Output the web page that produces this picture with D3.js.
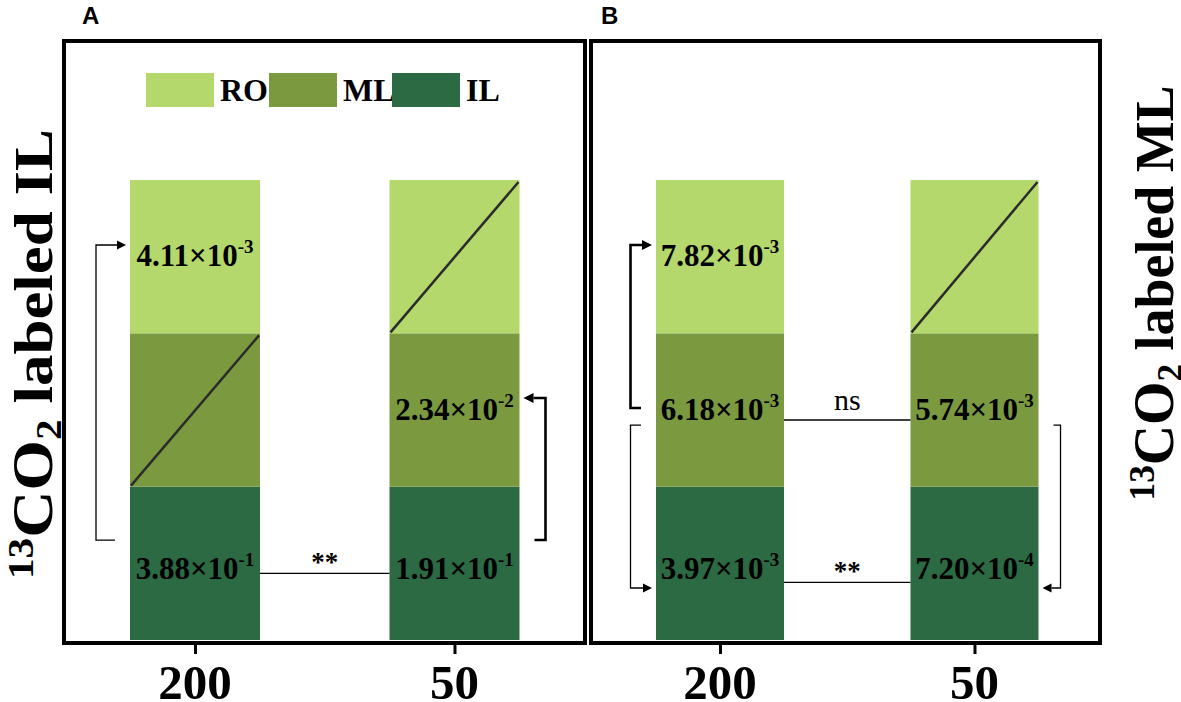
<!DOCTYPE html>
<html>
<head>
<meta charset="utf-8">
<script src="https://cdn.jsdelivr.net/npm/d3@7"></script>
<style>
  body { margin: 0; background: #fff; }
</style>
</head>
<body>
<div id="chart"></div>
<script>
// x categories (13CO2 level)
const categories = ["200", "50"];
// stacked parts, bottom to top
const parts = ["IL", "ML", "RO"];
const legendParts = ["RO", "ML", "IL"];
const partColors = { RO: "#b4d86b", ML: "#7b9a40", IL: "#2c6a43" };

// values per part [IL, ML, RO]; null = not measured (crossed cell)
const panelA200 = [3.88e-1, null, 4.11e-3];
const panelA50 = [1.91e-1, 2.34e-2, null];
const panelB200 = [3.97e-3, 6.18e-3, 7.82e-3];
const panelB50 = [7.20e-4, 5.74e-3, null];

// significance 200 vs 50 per part [IL, ML, RO]
const sigA = ["**", null, null];
const sigB = ["**", "ns", null];

const W = 1181, H = 702;
const serif = "'Liberation Serif', 'Times New Roman', serif";
const sans = "'Liberation Sans', Arial, sans-serif";

const svg = d3.select("#chart").append("svg")
  .attr("width", W)
  .attr("height", H);

// stack height in "part" units, every part gets one unit
const y = d3.scaleLinear().domain([0, parts.length]).range([640, 180]);

// baseline offset of the value label inside each part
const labelDy = [16, 10, 9.5];

const panels = [
  {
    id: "A", frame: [64, 41, 585, 643], centers: [195, 454.5], barW: 130,
    values: { "200": panelA200, "50": panelA50 }, sig: sigA, sigDy: [10, 10, 10],
    title: "labeled IL", titleX: 52, titleY: 354, titleLen: 450, legend: true,
    brackets: [
      { cat: "200", side: "left", from: 0.652, to: 2.576, off: 34, thick: false },
      { cat: "50", side: "right", from: 0.652, to: 1.578, off: 26, thick: true }
    ]
  },
  {
    id: "B", frame: [591, 41, 1100, 643], centers: [720, 974.5], barW: 128,
    values: { "200": panelB200, "50": panelB50 }, sig: sigB, sigDy: [19, 10, 10],
    title: "labeled ML", titleX: 1173, titleY: 293, titleLen: 415, legend: false,
    brackets: [
      { cat: "200", side: "left", from: 1.513, to: 2.576, off: 25.5, thick: true },
      { cat: "200", side: "left", from: 1.402, to: 0.339, off: 25.5, thick: false },
      { cat: "50", side: "right", from: 1.402, to: 0.339, off: 22, thick: false }
    ]
  }
];

function sciParts(v) {
  let s = v.toExponential(2).split("e");
  return [s[0] + "\u00d710", String(+s[1])];
}

panels.forEach(function(p) {
  let g = svg.append("g");
  let x = d3.scalePoint().domain(categories).range(p.centers);
  let [fx0, fy0, fx1, fy1] = p.frame;

  // bars
  categories.forEach(function(cat) {
    let vals = p.values[cat];
    let bx = x(cat) - p.barW / 2;
    parts.forEach(function(part, i) {
      g.append("rect")
        .attr("x", bx)
        .attr("y", y(i + 1))
        .attr("width", p.barW)
        .attr("height", y(i) - y(i + 1))
        .attr("fill", partColors[part]);
      if (vals[i] === null) {
        g.append("line")
          .attr("x1", bx + 1).attr("y1", y(i) - 1)
          .attr("x2", bx + p.barW - 1).attr("y2", y(i + 1) + 2)
          .attr("stroke", "#2b2b2b")
          .attr("stroke-width", 2.5);
      } else {
        let sp = sciParts(vals[i]);
        let t = g.append("text")
          .attr("x", x(cat))
          .attr("y", y(i + 0.5) + labelDy[i])
          .attr("text-anchor", "middle")
          .attr("font-family", serif)
          .attr("font-weight", "bold")
          .attr("font-size", 31)
          .attr("fill", "#000");
        t.append("tspan").text(sp[0]);
        t.append("tspan").attr("dy", -13).attr("font-size", 19).text(sp[1]);
      }
    });
  });

  // significance between the two bars
  let xl = x(categories[0]) + p.barW / 2;
  let xr = x(categories[1]) - p.barW / 2;
  p.sig.forEach(function(s, i) {
    if (!s) return;
    let ly = y(i + 0.5) + p.sigDy[i];
    g.append("line")
      .attr("x1", xl).attr("x2", xr)
      .attr("y1", ly).attr("y2", ly)
      .attr("stroke", "#000")
      .attr("stroke-width", 1.3);
    g.append("text")
      .attr("x", (xl + xr) / 2)
      .attr("y", s === "ns" ? ly - 10 : ly - 2)
      .attr("text-anchor", "middle")
      .attr("font-family", serif)
      .attr("font-weight", s === "ns" ? "normal" : "bold")
      .attr("font-size", s === "ns" ? 30 : 27)
      .text(s);
  });

  // brackets with arrows
  p.brackets.forEach(function(b) {
    let dir = b.side === "left" ? -1 : 1;
    let edge = x(b.cat) + dir * p.barW / 2;
    let vx = edge + dir * b.off;
    let yFrom = y(b.from), yTo = y(b.to);
    let sw = b.thick ? 2.6 : 1.3;
    let tip = edge + dir * 4;
    let head = b.thick ? 10 : 9;
    let hh = b.thick ? 5 : 4.5;
    g.append("path")
      .attr("d", "M" + (edge + dir * 15) + "," + yFrom +
        "H" + vx + "V" + yTo + "H" + (tip + dir * head))
      .attr("fill", "none")
      .attr("stroke", "#000")
      .attr("stroke-width", sw);
    g.append("path")
      .attr("d", "M" + tip + "," + yTo +
        "L" + (tip + dir * head) + "," + (yTo - hh) +
        "L" + (tip + dir * head) + "," + (yTo + hh) + "Z")
      .attr("fill", "#000");
  });

  // frame
  g.append("rect")
    .attr("x", fx0).attr("y", fy0)
    .attr("width", fx1 - fx0).attr("height", fy1 - fy0)
    .attr("fill", "none")
    .attr("stroke", "#000")
    .attr("stroke-width", 4);

  // x axis ticks and labels
  let axis = d3.axisBottom(x).tickSize(10).tickPadding(0).tickFormat(function() { return ""; });
  let ag = g.append("g").attr("transform", "translate(0," + (fy1 + 1) + ")").call(axis);
  ag.select(".domain").remove();
  ag.selectAll(".tick line").attr("stroke", "#000").attr("stroke-width", 3);
  categories.forEach(function(cat) {
    g.append("text")
      .attr("x", x(cat))
      .attr("y", 699)
      .attr("text-anchor", "middle")
      .attr("font-family", serif)
      .attr("font-weight", "bold")
      .attr("font-size", 49)
      .text(cat);
  });

  // panel letter
  g.append("text")
    .attr("x", fx0 + (p.id === "A" ? 18 : 10))
    .attr("y", 24)
    .attr("font-family", sans)
    .attr("font-weight", "bold")
    .attr("font-size", 24)
    .text(p.id);

  // rotated axis title
  let tt = svg.append("text")
    .attr("transform", "translate(" + p.titleX + "," + p.titleY + ") rotate(-90)")
    .attr("text-anchor", "middle")
    .attr("font-family", serif)
    .attr("font-weight", "bold")
    .attr("font-size", 55)
    .attr("textLength", p.titleLen)
    .attr("lengthAdjust", "spacingAndGlyphs");
  tt.append("tspan").attr("font-size", 36).attr("dy", -19).text("13");
  tt.append("tspan").attr("font-size", 57).attr("dy", 19).text("CO");
  tt.append("tspan").attr("font-size", 36).attr("dy", 9).text("2");
  tt.append("tspan").attr("dy", -9).text(" " + p.title);

  // legend
  if (p.legend) {
    let lx = d3.scalePoint().domain(legendParts).range([146, 392]);
    legendParts.forEach(function(part) {
      g.append("rect")
        .attr("x", lx(part)).attr("y", 73)
        .attr("width", 68).attr("height", 34)
        .attr("fill", partColors[part]);
      g.append("text")
        .attr("x", lx(part) + 74)
        .attr("y", 101)
        .attr("font-family", serif)
        .attr("font-weight", "bold")
        .attr("font-size", 32)
        .text(part);
    });
  }
});
</script>
</body>
</html>
